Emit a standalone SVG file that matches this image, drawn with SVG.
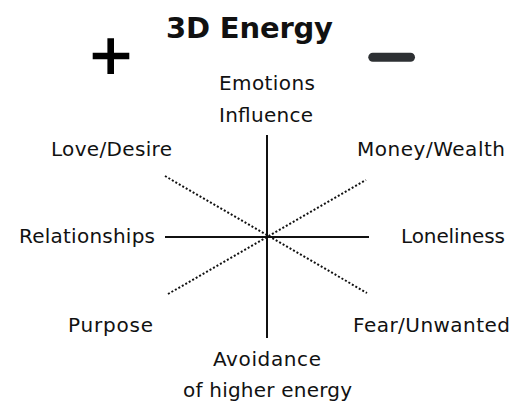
<svg xmlns="http://www.w3.org/2000/svg" width="513" height="405" viewBox="0 0 513 405">
<style>
text{font-family:"DejaVu Sans",Inter,sans-serif;font-size:20px;fill:#111}
.title{font-size:29px;font-weight:700}
.axis{stroke:#111;stroke-width:2;fill:none}
.dot{stroke:#111;stroke-width:2;stroke-dasharray:2 2;fill:none}
</style>
<rect width="513" height="405" fill="#fff"/>
<g id="title"><text class="title" x="166" y="38" textLength="167" lengthAdjust="spacing">3D Energy</text></g>
<g id="plus"><path d="M92.7 56H129.3M110.7 38.3V74" stroke="#000" stroke-width="6.6"/></g>
<g id="minus"><line x1="372.8" y1="57.2" x2="410.5" y2="57.2" stroke="#2d3033" stroke-width="9" stroke-linecap="round"/></g>
<g id="connectors">
<line class="axis" x1="267" y1="135" x2="267" y2="338"/>
<line class="axis" x1="165" y1="237" x2="369" y2="237"/>
<line class="dot" x1="165" y1="176" x2="367" y2="293"/>
<line class="dot" x1="168" y1="294" x2="366" y2="180"/>
</g>
<g id="emotions"><text x="219" y="90" textLength="96" lengthAdjust="spacing">Emotions</text><text x="219" y="122" textLength="94" lengthAdjust="spacing">Influence</text></g>
<g id="love"><text x="51" y="156" textLength="121" lengthAdjust="spacing">Love/Desire</text></g>
<g id="money"><text x="357" y="156" textLength="148" lengthAdjust="spacing">Money/Wealth</text></g>
<g id="relationships"><text x="19" y="243" textLength="136" lengthAdjust="spacing">Relationships</text></g>
<g id="loneliness"><text x="401" y="243" textLength="104" lengthAdjust="spacing">Loneliness</text></g>
<g id="purpose"><text x="68" y="332" textLength="85" lengthAdjust="spacing">Purpose</text></g>
<g id="fear"><text x="353" y="332" textLength="157" lengthAdjust="spacing">Fear/Unwanted</text></g>
<g id="avoidance"><text x="213" y="366" textLength="108" lengthAdjust="spacing">Avoidance</text><text x="183" y="397" textLength="169" lengthAdjust="spacing">of higher energy</text></g>
</svg>
